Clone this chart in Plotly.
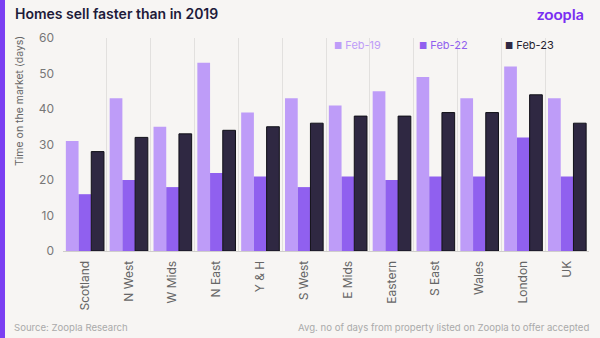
import plotly.graph_objects as go

regions = ["Scotland", "N West", "W Mids", "N East", "Y & H", "S West",
           "E Mids", "Eastern", "S East", "Wales", "London", "UK"]
feb19 = [31, 43, 35, 53, 39, 43, 41, 45, 49, 43, 52, 43]
feb22 = [16, 20, 18, 22, 21, 18, 21, 20, 21, 21, 32, 21]
feb23 = [28, 32, 33, 34, 35, 36, 38, 38, 39, 39, 44, 36]
series_names = ["Feb-19", "Feb-22", "Feb-23"]
y_ticks = [0, 10, 20, 30, 40, 50, 60]

colors = ["#BE9CF8", "#9060EF", "#2F2842"]
label_colors = ["#BE9CF8", "#9060EF", "#1E1B2E"]
bg = "#F7F5F3"
font_family = "Inter, Lato, sans-serif"

# canvas geometry (pixels)
W, H = 600, 338
pl, pr, pt, pb = 63, 11, 38, 87
pw, ph = W - pl - pr, H - pt - pb


def px_x(x):
    return (x - pl) / pw


def px_y(y):
    return (H - y - pb) / ph


fig = go.Figure()
for name, vals, col in zip(series_names, [feb19, feb22, feb23], colors):
    fig.add_trace(go.Bar(
        x=regions, y=vals, name=name, marker_color=col,
        marker_line_color="#111018" if name == "Feb-23" else col,
        marker_line_width=1 if name == "Feb-23" else 0,
    ))

fig.update_layout(
    width=W, height=H,
    paper_bgcolor=bg, plot_bgcolor=bg,
    margin=dict(l=pl, r=pr, t=pt, b=pb),
    barmode="group", bargap=0.13, bargroupgap=0.0,
    font=dict(family=font_family, color="#666"),
    showlegend=False,
    xaxis=dict(
        type="category", tickson="boundaries", showgrid=True,
        gridcolor="#E2E0DE", gridwidth=1,
        tickangle=-90, ticks="", tickfont=dict(size=12, color="#666"),
        ticklabelstandoff=4,
        showline=True, linecolor="#CFCDCB", linewidth=1,
        zeroline=False,
    ),
    yaxis=dict(
        range=[0, 60], tickvals=y_ticks, showgrid=False, zeroline=False,
        tickfont=dict(size=12, color="#777"), ticks="", ticklabelstandoff=8,
        showline=False,
    ),
)

annotations = [
    dict(text="Homes sell faster than in 2019", x=px_x(13), y=px_y(14),
         xanchor="left", yanchor="middle",
         font=dict(size=14, color="#1E1B3A", family=font_family, weight=600)),
    dict(text="<b>zoopla</b>", x=px_x(586), y=px_y(14),
         xanchor="right", yanchor="middle",
         font=dict(size=16, color="#7A2FF2", family="Lato, sans-serif")),
    dict(text="Time on the market (days)", textangle=-90, x=px_x(20), y=px_y(34),
         xanchor="center", yanchor="top",
         font=dict(size=10.5, color="#666", family=font_family)),
    dict(text="Source: Zoopla Research", x=px_x(12), y=px_y(327),
         xanchor="left", yanchor="middle",
         font=dict(size=9.6, color="#AAA", family=font_family)),
    dict(text="Avg. no of days from property listed on Zoopla to offer accepted",
         x=px_x(591), y=px_y(327), xanchor="right", yanchor="middle",
         font=dict(size=9.6, color="#AAA", family=font_family)),
]

# legend keys: small coloured square followed by a coloured label
legend_x = [332, 417, 503]
for name, col, lcol, lx in zip(series_names, colors, label_colors, legend_x):
    annotations.append(dict(
        text=f"<span style='color:{col}; font-size:9px'>■</span> {name}",
        x=px_x(lx), y=px_y(45), xanchor="left", yanchor="middle",
        font=dict(size=11, color=lcol, family=font_family)))

for a in annotations:
    a.update(xref="paper", yref="paper", showarrow=False)
fig.update_layout(annotations=annotations)

# purple accent stripe down the left edge
fig.add_shape(type="rect", xref="paper", yref="paper",
              x0=px_x(0), x1=px_x(5), y0=px_y(H), y1=px_y(0),
              fillcolor="#7B3FF2", line_width=0, layer="above")

fig.write_html("out.html")
